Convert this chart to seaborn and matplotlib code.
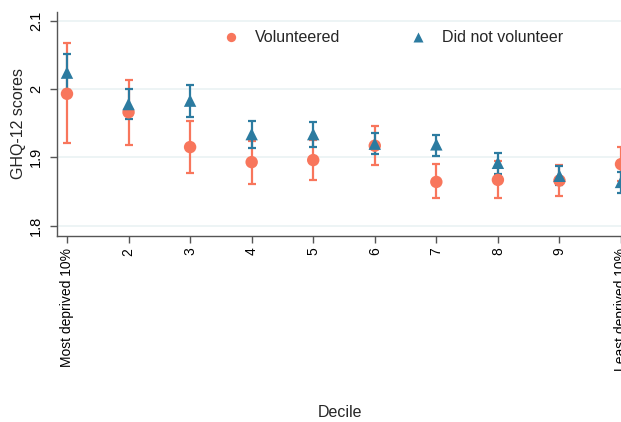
import numpy as np
import pandas as pd
import matplotlib
matplotlib.use("Agg")
import matplotlib.pyplot as plt
import seaborn as sns

# -----------------------------
# DATA
# -----------------------------
deciles = np.arange(1, 11)
tick_labels = ["Most deprived 10%", "2", "3", "4", "5", "6", "7", "8", "9", "Least deprived 10%"]

vol_mean = [1.993, 1.966, 1.915, 1.893, 1.896, 1.917, 1.864, 1.867, 1.866, 1.890]
vol_low = [1.921, 1.918, 1.877, 1.861, 1.867, 1.889, 1.840, 1.840, 1.843, 1.866]
vol_high = [2.067, 2.013, 1.953, 1.924, 1.925, 1.946, 1.890, 1.895, 1.889, 1.915]

dnv_mean = [2.024, 1.978, 1.983, 1.934, 1.934, 1.920, 1.919, 1.892, 1.873, 1.864]
dnv_low = [1.998, 1.956, 1.959, 1.914, 1.915, 1.905, 1.902, 1.876, 1.860, 1.848]
dnv_high = [2.051, 2.000, 2.006, 1.953, 1.951, 1.936, 1.933, 1.906, 1.888, 1.878]

groups = ["Volunteered", "Did not volunteer"]
colors = {"Volunteered": "#F8765C", "Did not volunteer": "#2C7BA0"}
markers = {"Volunteered": "o", "Did not volunteer": "^"}

df = pd.DataFrame({
    "decile": np.concatenate([deciles, deciles]),
    "score": vol_mean + dnv_mean,
    "low": vol_low + dnv_low,
    "high": vol_high + dnv_high,
    "group": [groups[0]] * 10 + [groups[1]] * 10,
})

# -----------------------------
# PLOT
# -----------------------------
sns.set_style("white")
plt.rcParams["font.family"] = ["Liberation Sans", "DejaVu Sans"]

fig = plt.figure(figsize=(6.21, 4.22), dpi=100)
ax = fig.add_axes([0.092, 0.441, 0.91, 0.531])

for g in groups:
    sub = df[df["group"] == g]
    ax.errorbar(sub["decile"], sub["score"],
                yerr=[sub["score"] - sub["low"], sub["high"] - sub["score"]],
                fmt="none", ecolor=colors[g], elinewidth=1.6,
                capsize=3, capthick=1.6, zorder=2)

sns.scatterplot(data=df, x="decile", y="score", hue="group", style="group",
                palette=colors, markers=markers, hue_order=groups, style_order=groups,
                s=80, edgecolor="none", ax=ax, zorder=3)

ax.set_xlim(0.84, 10.02)
ax.set_ylim(1.785, 2.113)
ax.set_xticks(deciles)
ax.set_xticklabels(tick_labels, rotation=90, fontsize=10)
ax.set_yticks([1.8, 1.9, 2.0, 2.1])
ax.set_yticklabels(["1.8", "1.9", "2", "2.1"], rotation=90, va="center", fontsize=10.5)
ax.yaxis.grid(True, color="#EAF2F3", linewidth=1.2)
ax.set_axisbelow(True)

for s in ["top", "right"]:
    ax.spines[s].set_visible(False)
for s in ["left", "bottom"]:
    ax.spines[s].set_color("#555555")
    ax.spines[s].set_linewidth(1.0)
ax.tick_params(axis="both", direction="out", length=5, width=1, color="#555555",
               colors="black", bottom=True, left=True)
ax.tick_params(axis="y", pad=5)

ax.set_xlabel("Decile", fontsize=11.5, labelpad=25)
ax.set_ylabel("GHQ-12 scores", fontsize=11.5, labelpad=2)

ax.legend(title=None, ncol=2, frameon=False, loc="center",
          bbox_to_anchor=(0.588, 0.884), fontsize=11.5, columnspacing=3.85,
          handletextpad=0.5, markerscale=0.75)

fig.savefig("out.png", dpi=100)
